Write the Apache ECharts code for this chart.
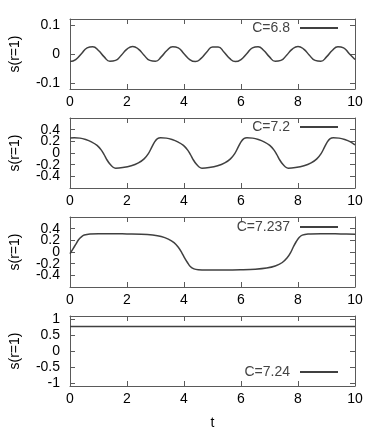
<!DOCTYPE html>
<html>
<head>
<meta charset="utf-8">
<script src="https://cdn.jsdelivr.net/npm/echarts@6/dist/echarts.min.js"></script>
<style>
  html, body { margin: 0; padding: 0; background: #fff; }
  #main { width: 382px; height: 431px; }
</style>
</head>
<body>
<div id="main"></div>
<script>
// 横轴刻度
var xTicks = [0, 2, 4, 6, 8, 10];

// C=6.8
var t68 = [0, 0.2, 0.4, 0.6, 0.8, 1, 1.2, 1.4, 1.6, 1.8, 2, 2.2, 2.4, 2.6, 2.8, 3, 3.2, 3.4, 3.6, 3.8,
  4, 4.2, 4.4, 4.6, 4.8, 5, 5.2, 5.4, 5.6, 5.8, 6, 6.2, 6.4, 6.6, 6.8, 7, 7.2, 7.4, 7.6, 7.8,
  8, 8.2, 8.4, 8.6, 8.8, 9, 9.2, 9.4, 9.6, 9.8, 10];
var s68 = [-0.026, -0.019, 0.001, 0.021, 0.025, 0.012, -0.010, -0.025, -0.022, -0.004,
  0.017, 0.026, 0.017, -0.004, -0.022, -0.025, -0.010, 0.012, 0.025, 0.021,
  0.001, -0.019, -0.026, -0.015, 0.007, 0.024, 0.024, 0.007, -0.015, -0.026,
  -0.019, 0.001, 0.021, 0.025, 0.012, -0.010, -0.025, -0.022, -0.004, 0.017,
  0.026, 0.017, -0.004, -0.022, -0.025, -0.010, 0.012, 0.025, 0.021, 0.001, -0.019];

// C=7.2
var t72 = [0, 0.15, 0.35, 0.55, 0.75, 0.95, 1.1, 1.2, 1.3, 1.4, 1.5, 1.6, 1.85, 2.15, 2.4, 2.6, 2.75, 2.87, 2.97, 3.07,
  3.18, 3.38, 3.58, 3.78, 3.98, 4.13, 4.23, 4.33, 4.43, 4.53, 4.63, 4.88, 5.18, 5.43, 5.63, 5.78, 5.9, 6, 6.1,
  6.21, 6.41, 6.61, 6.81, 7.01, 7.16, 7.26, 7.36, 7.46, 7.56, 7.66, 7.91, 8.21, 8.46, 8.66, 8.81, 8.93, 9.03, 9.13,
  9.24, 9.44, 9.64, 9.84, 10];
var s72 = [0.258, 0.26, 0.255, 0.23, 0.19, 0.13, 0.05, -0.03, -0.12, -0.19, -0.24, -0.26, -0.25, -0.22, -0.17, -0.10, -0.01, 0.10, 0.19, 0.245,
  0.26, 0.255, 0.23, 0.19, 0.13, 0.05, -0.03, -0.12, -0.19, -0.24, -0.26, -0.25, -0.22, -0.17, -0.10, -0.01, 0.10, 0.19, 0.245,
  0.26, 0.255, 0.23, 0.19, 0.13, 0.05, -0.03, -0.12, -0.19, -0.24, -0.26, -0.25, -0.22, -0.17, -0.10, -0.01, 0.10, 0.19, 0.245,
  0.26, 0.255, 0.23, 0.19, 0.14];

// C=7.237
var t7237 = [0, 0.1, 0.2, 0.3, 0.4, 0.5, 0.7, 1, 1.5, 2, 2.5, 2.9, 3.2, 3.45, 3.65, 3.8, 3.92, 4.02, 4.12, 4.22,
  4.35, 4.5, 4.8, 5.5, 6, 6.5, 6.9, 7.2, 7.45, 7.62, 7.74, 7.84, 7.94, 8.04, 8.15, 8.35, 8.8, 9.5, 10];
var s7237 = [-0.03, 0.05, 0.13, 0.21, 0.26, 0.29, 0.31, 0.315, 0.315, 0.31, 0.305, 0.29, 0.265, 0.22, 0.16, 0.08, -0.01, -0.10, -0.18, -0.25,
  -0.29, -0.305, -0.31, -0.31, -0.305, -0.295, -0.275, -0.24, -0.18, -0.10, -0.01, 0.09, 0.18, 0.25, 0.29, 0.31, 0.315, 0.31, 0.305];

// C=7.24
var t724 = [0, 10];
var s724 = [0.77, 0.77];

var names = ['C=6.8', 'C=7.2', 'C=7.237', 'C=7.24'];
var tList = [t68, t72, t7237, t724];
var sList = [s68, s72, s7237, s724];
var yMin = [-0.12, -0.6, -0.6, -1.1];
var yMax = [0.12, 0.6, 0.6, 1.1];
var yTicks = [
  [-0.1, 0, 0.1],
  [-0.4, -0.2, 0, 0.2, 0.4],
  [-0.4, -0.2, 0, 0.2, 0.4],
  [-1, -0.5, 0, 0.5, 1]
];
// 标签太挤，分两组画，避免被自动隐藏
var yLabelsA = [[-0.1, 0, 0.1], [-0.4, 0, 0.4], [-0.4, 0, 0.4], [-1, 0, 1]];
var yLabelsB = [[], [-0.2, 0.2], [-0.2, 0.2], [-0.5, 0.5]];

var font = "'Liberation Sans', Arial, sans-serif";
var frameColor = '#5a5a5a';
var lineColor = '#404040';
var tops = [19, 118, 217, 316];
var legendTops = [21, 120, 220, 365];

var myChart = echarts.init(document.getElementById('main'));

var grids = [], xAxes = [], yAxes = [], series = [], legends = [];
for (var i = 0; i < 4; i++) {
  grids.push({ left: 69, right: 27, top: tops[i], height: 70 });

  var frame = { show: true, onZero: false, lineStyle: { color: frameColor, width: 1 } };
  var labelStyle = { margin: 10, color: '#000', fontSize: 14, fontFamily: font,
    hideOverlap: false, showMinLabel: true, showMaxLabel: true };
  // 下边有数字，上边只有刻度
  xAxes.push({
    gridIndex: i, type: 'value', min: 0, max: 10, interval: 2, position: 'bottom',
    axisLine: frame,
    axisTick: { inside: true, length: 5, lineStyle: { color: frameColor } },
    axisLabel: { margin: 6, color: '#000', fontSize: 14, fontFamily: font, hideOverlap: false },
    splitLine: { show: false },
    name: i === 3 ? 't' : '', nameLocation: 'middle', nameGap: 30,
    nameTextStyle: { color: '#000', fontSize: 14, fontFamily: font }
  });
  xAxes.push({
    gridIndex: i, type: 'value', min: 0, max: 10, interval: 2, position: 'top',
    axisLine: frame,
    axisTick: { inside: true, length: 5, lineStyle: { color: frameColor } },
    axisLabel: { show: false },
    splitLine: { show: false }
  });
  yAxes.push({
    gridIndex: i, type: 'value', min: yMin[i], max: yMax[i], position: 'left',
    axisLine: frame,
    axisTick: { inside: true, length: 5, customValues: yTicks[i], lineStyle: { color: frameColor } },
    axisLabel: Object.assign({ customValues: yLabelsA[i] }, labelStyle),
    splitLine: { show: false },
    name: 's(r=1)', nameLocation: 'middle', nameGap: 48,
    nameTextStyle: { color: '#000', fontSize: 14, fontFamily: font }
  });
  yAxes.push({
    gridIndex: i, type: 'value', min: yMin[i], max: yMax[i], position: 'right',
    axisLine: frame,
    axisTick: { inside: true, length: 5, customValues: yTicks[i], lineStyle: { color: frameColor } },
    axisLabel: { show: false },
    splitLine: { show: false }
  });

  var pts = [];
  for (var k = 0; k < tList[i].length; k++) pts.push([tList[i][k], sList[i][k]]);
  series.push({
    name: names[i], type: 'line', xAxisIndex: 2 * i, yAxisIndex: 2 * i,
    data: pts, showSymbol: false, smooth: i === 0 ? true : 0.35,
    lineStyle: { color: lineColor, width: 1.5 }, itemStyle: { color: lineColor }
  });

  legends.push({
    data: [names[i]], right: 44, top: legendTops[i], padding: 0,
    icon: 'rect', itemWidth: 38, itemHeight: 2, align: 'right',
    textStyle: { color: '#444', fontSize: 14, fontFamily: font, padding: [0, 5, 0, 0] }
  });
}

// 第二组纵轴标签
for (var j = 0; j < 4; j++) {
  if (!yLabelsB[j].length) continue;
  yAxes.push({
    gridIndex: j, type: 'value', min: yMin[j], max: yMax[j], position: 'left',
    axisLine: { show: false, onZero: false },
    axisTick: { show: false },
    axisLabel: { margin: 10, color: '#000', fontSize: 14, fontFamily: font,
      hideOverlap: false, showMinLabel: true, showMaxLabel: true, customValues: yLabelsB[j] },
    splitLine: { show: false }
  });
}

var option = {
  animation: false,
  grid: grids,
  xAxis: xAxes,
  yAxis: yAxes,
  legend: legends,
  series: series
};

myChart.setOption(option);
</script>
</body>
</html>
